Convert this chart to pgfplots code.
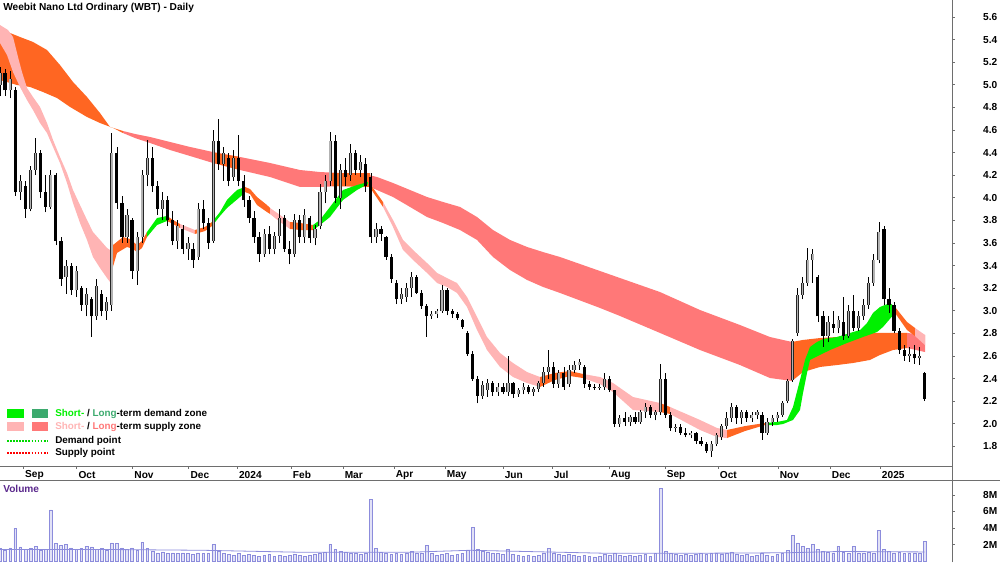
\documentclass[border=0pt]{standalone}
\usepackage{fontspec}
\setmainfont{Liberation Sans}
\usepackage{pgfplots}
\usepackage{pgfplotstable}
\pgfplotsset{compat=1.18}
\definecolor{stg}{RGB}{0,240,0}
\definecolor{ltg}{RGB}{60,170,110}
\definecolor{stp}{RGB}{255,180,180}
\definecolor{ltp}{RGB}{255,120,120}
\definecolor{orng}{RGB}{255,102,34}
\definecolor{volc}{RGB}{140,140,220}
\definecolor{volt}{RGB}{90,40,140}
\definecolor{axc}{RGB}{110,110,110}

\pgfplotstableread{
x o h l c v
0 5.00 5.16 4.90 5.10 1.5
2 5.10 5.14 4.90 4.95 1.3
4 4.95 5.12 4.88 5.05 1.6
6 4.95 4.98 4.02 4.05 4.0
8 4.05 4.20 3.98 4.15 1.7
10 4.10 4.15 3.82 3.90 1.4
12 3.90 4.28 3.88 4.25 1.5
14 4.25 4.53 4.20 4.40 1.8
16 4.40 4.42 4.00 4.05 1.3
18 4.05 4.20 3.87 3.92 1.4
20 3.92 4.25 3.90 4.20 6.2
22 4.20 4.22 3.58 3.62 2.1
24 3.62 3.65 3.22 3.28 1.9
26 3.30 3.45 3.15 3.40 2.0
28 3.40 3.42 3.14 3.18 1.6
30 3.18 3.40 3.12 3.35 1.4
32 3.20 3.22 3.00 3.05 1.5
34 3.05 3.20 2.95 3.15 1.8
36 3.10 3.12 2.77 2.95 1.7
38 2.95 3.28 2.92 3.22 1.4
40 3.15 3.18 2.95 3.00 1.5
42 3.00 3.12 2.92 3.08 1.3
44 3.05 4.57 3.00 4.40 2.2
46 4.40 4.45 3.90 3.95 2.1
48 3.95 4.02 3.60 3.65 1.6
50 3.65 3.90 3.60 3.85 1.4
52 3.80 3.82 3.28 3.35 1.6
54 3.35 3.70 3.23 3.65 1.3
56 3.65 4.25 3.60 4.20 2.3
58 4.20 4.51 4.10 4.35 1.5
60 4.35 4.45 4.05 4.10 1.2
62 4.10 4.15 3.85 3.90 1.0
64 3.90 4.05 3.80 3.98 1.1
66 3.98 4.02 3.75 3.80 0.9
68 3.80 3.88 3.58 3.62 1.0
70 3.62 3.80 3.55 3.75 0.9
72 3.72 3.76 3.50 3.55 1.0
74 3.55 3.65 3.45 3.60 0.9
76 3.55 3.60 3.38 3.45 0.8
78 3.48 3.95 3.45 3.90 1.0
80 3.90 3.98 3.72 3.78 0.9
82 3.78 3.82 3.55 3.60 1.0
84 3.62 4.60 3.60 4.50 2.0
86 4.50 4.70 4.25 4.30 1.2
88 4.30 4.45 4.15 4.40 0.9
90 4.35 4.40 4.10 4.15 0.8
92 4.18 4.42 4.15 4.35 0.7
94 4.35 4.56 4.10 4.15 0.9
96 4.15 4.20 3.92 3.98 0.7
98 3.98 4.02 3.78 3.82 0.8
100 3.82 3.88 3.60 3.65 0.7
102 3.65 3.70 3.43 3.50 0.6
104 3.50 3.72 3.48 3.68 0.7
106 3.68 3.75 3.50 3.55 0.8
108 3.55 3.70 3.50 3.66 0.6
110 3.66 3.90 3.60 3.82 0.7
112 3.82 3.85 3.52 3.55 0.6
114 3.55 3.62 3.41 3.50 0.7
116 3.50 3.86 3.48 3.80 0.8
118 3.80 3.85 3.60 3.65 0.7
120 3.65 3.90 3.60 3.85 0.6
122 3.82 3.84 3.60 3.64 0.7
124 3.64 3.76 3.58 3.72 0.8
126 3.75 4.12 3.72 4.05 1.0
128 4.05 4.20 3.95 4.15 1.1
130 4.15 4.58 4.10 4.50 2.0
132 4.50 4.56 3.95 4.00 1.4
134 4.00 4.30 3.90 4.25 1.2
136 4.25 4.35 4.10 4.18 1.1
138 4.20 4.48 4.15 4.40 1.0
140 4.40 4.42 4.20 4.25 0.9
142 4.25 4.38 4.18 4.32 0.8
144 4.30 4.35 4.05 4.10 1.0
146 4.18 4.22 3.60 3.65 7.5
148 3.65 3.78 3.60 3.72 1.5
150 3.72 3.75 3.62 3.68 1.1
152 3.65 3.66 3.45 3.48 0.9
154 3.48 3.50 3.25 3.28 0.8
156 3.25 3.27 3.06 3.10 1.0
158 3.10 3.20 3.06 3.15 0.8
160 3.12 3.25 3.08 3.20 0.9
162 3.20 3.34 3.12 3.30 1.2
164 3.30 3.32 3.15 3.16 1.0
166 3.16 3.18 3.02 3.04 0.9
168 3.04 3.06 2.77 2.95 1.9
170 2.95 3.00 2.93 2.97 0.9
172 2.97 3.02 2.94 3.00 0.7
174 3.00 3.23 2.98 3.18 0.8
176 3.18 3.20 2.96 3.00 0.9
178 3.00 3.02 2.94 2.97 0.7
180 2.97 2.99 2.92 2.94 0.8
182 2.92 2.93 2.84 2.86 0.9
184 2.80 2.82 2.60 2.62 1.3
186 2.62 2.64 2.38 2.40 4.1
188 2.40 2.42 2.18 2.25 1.4
190 2.25 2.38 2.22 2.34 1.2
192 2.30 2.40 2.24 2.36 1.1
194 2.36 2.38 2.25 2.28 1.0
196 2.28 2.36 2.25 2.33 0.9
198 2.33 2.36 2.26 2.28 0.8
200 2.28 2.60 2.25 2.36 1.4
202 2.36 2.37 2.23 2.26 0.8
204 2.26 2.32 2.24 2.30 0.7
206 2.30 2.36 2.26 2.33 0.6
208 2.33 2.34 2.26 2.28 0.7
210 2.28 2.33 2.25 2.31 0.6
212 2.31 2.38 2.28 2.36 0.7
214 2.36 2.50 2.33 2.46 0.9
216 2.46 2.65 2.40 2.50 1.5
218 2.50 2.55 2.32 2.35 1.0
220 2.35 2.48 2.32 2.45 0.8
222 2.45 2.50 2.30 2.33 0.7
224 2.35 2.52 2.33 2.48 0.8
226 2.48 2.56 2.45 2.52 0.7
228 2.52 2.57 2.48 2.55 0.6
230 2.50 2.52 2.32 2.35 0.7
232 2.35 2.38 2.30 2.33 0.6
234 2.33 2.35 2.30 2.32 0.5
236 2.32 2.35 2.30 2.33 0.6
238 2.33 2.45 2.30 2.40 0.8
240 2.40 2.42 2.28 2.30 0.7
242 2.30 2.30 1.97 2.00 1.0
244 2.00 2.08 1.97 2.05 0.7
246 2.05 2.10 1.98 2.02 0.6
248 2.02 2.08 1.98 2.06 0.7
250 2.06 2.10 2.00 2.02 0.6
252 2.02 2.12 2.00 2.10 0.7
254 2.10 2.18 2.05 2.15 0.8
256 2.15 2.17 2.05 2.08 0.6
258 2.08 2.12 2.03 2.10 0.9
260 2.10 2.53 2.08 2.40 8.8
262 2.40 2.45 2.05 2.08 1.2
264 2.08 2.10 1.94 1.96 0.9
266 1.96 2.00 1.93 1.97 0.8
268 1.97 2.00 1.90 1.92 0.7
270 1.92 1.96 1.88 1.90 0.8
272 1.90 1.94 1.87 1.92 0.7
274 1.92 1.93 1.82 1.85 0.8
276 1.85 1.88 1.80 1.82 0.9
278 1.82 1.84 1.74 1.76 0.8
280 1.76 1.85 1.71 1.82 1.0
282 1.82 1.92 1.80 1.90 0.9
284 1.88 2.00 1.86 1.98 0.8
286 1.98 2.10 1.95 2.05 1.0
288 2.05 2.18 2.02 2.15 1.1
290 2.15 2.17 2.00 2.05 0.8
292 2.05 2.12 2.00 2.10 0.7
294 2.10 2.12 2.02 2.05 0.8
296 2.05 2.10 2.02 2.08 0.6
298 2.08 2.12 2.04 2.10 0.7
300 2.08 2.10 1.86 1.92 0.9
302 1.92 2.05 1.90 2.02 0.7
304 2.02 2.08 1.98 2.05 0.6
306 2.05 2.10 2.02 2.08 0.8
308 2.08 2.20 2.06 2.18 1.0
310 2.20 2.40 2.18 2.38 1.3
312 2.39 2.75 2.37 2.73 3.1
314 2.80 3.20 2.78 3.14 2.2
316 3.14 3.30 3.10 3.25 1.8
318 3.25 3.56 3.22 3.45 1.5
320 3.45 3.55 3.25 3.50 2.0
322 3.30 3.32 2.90 2.95 1.4
324 2.95 3.00 2.68 2.78 1.2
326 2.78 2.95 2.72 2.90 1.1
328 2.88 3.00 2.80 2.85 1.0
330 2.85 2.95 2.80 2.92 1.8
332 2.90 3.12 2.74 2.78 1.1
334 2.78 3.05 2.76 3.00 1.0
336 3.00 3.14 2.82 2.85 1.8
338 2.85 3.00 2.82 2.95 1.0
340 2.95 3.10 2.92 3.05 0.9
342 3.05 3.30 3.02 3.25 1.1
344 3.25 3.50 3.22 3.45 1.0
346 3.45 3.79 3.42 3.70 3.7
348 3.72 3.75 3.05 3.10 1.4
350 3.10 3.20 2.98 3.05 1.2
352 3.05 3.08 2.80 2.82 1.0
354 2.82 2.85 2.62 2.65 1.1
356 2.65 2.70 2.56 2.60 0.9
358 2.60 2.68 2.55 2.62 1.0
360 2.62 2.70 2.53 2.58 0.9
362 2.58 2.68 2.52 2.60 1.0
364 2.45 2.46 2.20 2.22 2.4
}\price

\begin{document}
\begin{tikzpicture}
\useasboundingbox (0pt,0pt) rectangle (750pt,421.5pt);
\begin{axis}[at={(0pt,72pt)}, anchor=south west, scale only axis,
  width=714pt, height=349.5pt,
  xmin=0, xmax=374.8, ymin=1.6265, ymax=5.7504,
  axis x line=bottom, axis y line=right,
  x axis line style={-}, y axis line style={-},
  axis line style={axc, line width=0.6pt},
  tick style={axc, line width=0.5pt}, tick align=outside, major tick length=2.2pt,
  xtick={9.17,30.2,52.2,74.3,93.4,114.6,135.0,155.1,175.2,198.0,217.3,239.8,261.8,282.7,306.3,326.8,346.5},
  xticklabels={Sep,Oct,Nov,Dec,2024,Feb,Mar,Apr,May,Jun,Jul,Aug,Sep,Oct,Nov,Dec,2025},
  xticklabel style={anchor=west, inner sep=0pt, xshift=1.2pt, yshift=-4.6pt, font=\fontsize{7.6}{9}\selectfont\bfseries},
  ytick={1.8,2,2.2,2.4,2.6,2.8,3,3.2,3.4,3.6,3.8,4,4.2,4.4,4.6,4.8,5,5.2,5.4,5.6},
  yticklabel style={anchor=west, inner sep=0pt, xshift=21pt, font=\fontsize{7.6}{9}\selectfont\bfseries,
    /pgf/number format/.cd, fixed, fixed zerofill, precision=1, assume math mode=true},
  clip=true]
% long-term band
\addplot[fill=orng, draw=none] coordinates {(0,5.494) (7.87,5.423) (12.99,5.379) (18.50,5.308) (23.62,5.175) (28.74,5.025) (34.25,4.892) (39.37,4.750) (43.31,4.627) (48.43,4.591) (48.43,4.573) (44.49,4.618) (39.37,4.662) (34.25,4.715) (27.56,4.804) (22.44,4.883) (16.93,4.936) (11.81,4.981) (6.69,4.998) (0,5.042)};
\addplot[fill=ltp, draw=none] coordinates {(48.43,4.591) (53.15,4.565) (59.06,4.538) (66.93,4.494) (74.80,4.450) (83.86,4.405) (94.49,4.361) (106.30,4.308) (118.11,4.246) (125.98,4.228) (133.86,4.219) (141.73,4.219) (148.43,4.184) (154.72,4.131) (161.42,4.069) (168.11,4.007) (174.41,3.963) (181.10,3.919) (187.80,3.830) (194.09,3.715) (200.79,3.627) (207.48,3.565) (213.78,3.520) (220.47,3.476) (236.22,3.352) (244.09,3.290) (259.84,3.166) (275.59,3.007) (291.34,2.874) (303.15,2.768) (311.81,2.724) (311.81,2.379) (303.15,2.405) (291.34,2.520) (275.59,2.653) (259.84,2.804) (244.09,2.954) (236.22,3.025) (220.47,3.158) (213.78,3.211) (207.48,3.273) (200.79,3.361) (194.09,3.476) (187.80,3.627) (181.10,3.715) (174.41,3.777) (168.11,3.830) (161.42,3.919) (154.72,4.007) (145.67,4.096) (133.86,4.104) (125.98,4.096) (118.11,4.096) (106.30,4.184) (94.49,4.246) (83.86,4.308) (74.80,4.370) (66.93,4.423) (59.06,4.485) (53.15,4.529) (48.43,4.573)};
\addplot[fill=orng, draw=none] coordinates {(84.25,4.40) (93.70,4.364) (93.70,4.25) (84.25,4.308)};
\addplot[fill=orng, draw=none] coordinates {(130.71,4.219) (145.67,4.219) (145.67,4.096) (130.71,4.104)};
\addplot[fill=orng, draw=none] coordinates {(311.81,2.724) (316.14,2.742) (322.83,2.759) (329.53,2.768) (335.83,2.786) (342.52,2.804) (349.21,2.804) (357.09,2.804) (357.09,2.671) (351.57,2.653) (346.46,2.609) (342.52,2.565) (335.83,2.538) (329.53,2.520) (322.83,2.503) (316.14,2.458) (311.81,2.379)};
\addplot[fill=ltp, draw=none] coordinates {(357.09,2.804) (364.17,2.786) (364.17,2.635) (357.09,2.671)};
% short-term band
\addplot[fill=stp, draw=none] coordinates {(0,5.529) (3.15,5.485) (5.12,5.423) (7.09,5.246) (8.66,5.113) (10.63,4.972) (12.99,4.892) (15.75,4.804) (18.50,4.662) (20.87,4.512) (23.62,4.361) (26.38,4.219) (28.74,4.069) (31.50,3.936) (34.25,3.804) (36.61,3.697) (39.37,3.627) (42.13,3.556) (43.31,3.538) (43.31,3.255) (42.13,3.290) (39.37,3.379) (36.61,3.476) (34.25,3.627) (31.50,3.777) (28.74,3.954) (26.38,4.131) (23.62,4.308) (20.87,4.450) (18.50,4.573) (15.75,4.662) (12.99,4.777) (10.63,4.865) (7.87,4.981) (5.12,5.113) (2.76,5.264) (0,5.370)};
\addplot[fill=orng, draw=none] coordinates {(43.31,3.538) (44.49,3.582) (48.43,3.653) (51.18,3.635) (53.94,3.582) (55.91,3.618) (57.87,3.697) (57.87,3.653) (55.91,3.556) (53.94,3.520) (52.36,3.547) (50.0,3.565) (46.06,3.512) (44.09,3.361) (43.31,3.255)};
\addplot[fill=stg, draw=none] coordinates {(57.87,3.697) (61.81,3.821) (65.75,3.839) (65.75,3.795) (61.81,3.759) (57.87,3.653)};
\addplot[fill=orng, draw=none] coordinates {(65.75,3.839) (68.11,3.804) (70.87,3.768) (70.87,3.733) (68.11,3.768) (65.75,3.795)};
\addplot[fill=stp, draw=none] coordinates {(70.87,3.768) (76.77,3.715) (76.77,3.680) (70.87,3.733)};
\addplot[fill=orng, draw=none] coordinates {(76.77,3.715) (80.71,3.742) (83.46,3.786) (83.46,3.750) (80.71,3.706) (76.77,3.680)};
\addplot[fill=stg, draw=none] coordinates {(83.46,3.786) (86.61,3.874) (89.37,3.981) (93.31,4.069) (96.46,4.096) (96.46,4.051) (94.49,4.007) (89.37,3.910) (86.61,3.839) (83.46,3.750)};
\addplot[fill=orng, draw=none] coordinates {(96.46,4.096) (98.43,4.078) (101.18,4.007) (105.12,3.936) (106.30,3.910) (106.30,3.857) (105.12,3.874) (101.18,3.936) (98.43,4.034) (96.46,4.051)};
\addplot[fill=stp, draw=none] coordinates {(106.30,3.910) (110.24,3.848) (114.17,3.786) (114.17,3.724) (110.24,3.786) (106.30,3.857)};
\addplot[fill=orng, draw=none] coordinates {(114.17,3.786) (118.11,3.777) (123.23,3.759) (123.23,3.715) (118.11,3.715) (114.17,3.724)};
\addplot[fill=stg, draw=none] coordinates {(123.23,3.759) (125.98,3.804) (129.92,3.919) (135.04,4.069) (140.55,4.113) (144.88,4.140) (144.88,4.122) (140.55,4.069) (135.04,3.981) (129.92,3.830) (125.98,3.759) (123.23,3.715)};
\addplot[fill=orng, draw=none] coordinates {(144.88,4.140) (146.85,4.087) (150.79,3.963) (150.79,3.919) (146.85,4.051) (144.88,4.122)};
\addplot[fill=stp, draw=none] coordinates {(150.79,3.963) (154.72,3.804) (158.66,3.627) (162.60,3.538) (168.11,3.423) (172.05,3.335) (175.98,3.290) (179.92,3.246) (183.86,3.122) (187.80,2.945) (191.73,2.768) (196.85,2.627) (201.97,2.538) (207.48,2.458) (212.60,2.414) (212.60,2.326) (207.48,2.361) (201.97,2.414) (196.85,2.503) (191.73,2.653) (187.80,2.830) (183.86,3.034) (179.92,3.158) (175.98,3.211) (172.05,3.246) (168.11,3.335) (162.60,3.450) (158.66,3.538) (154.72,3.742) (150.79,3.919)};
\addplot[fill=orng, draw=none] coordinates {(212.60,2.414) (218.50,2.450) (224.41,2.467) (229.53,2.441) (229.53,2.405) (224.41,2.423) (218.50,2.388) (212.60,2.326)};
\addplot[fill=stp, draw=none] coordinates {(229.53,2.441) (236.22,2.414) (241.34,2.361) (249.21,2.237) (259.84,2.184) (259.84,2.104) (249.21,2.122) (241.34,2.281) (236.22,2.352) (229.53,2.405)};
\addplot[fill=orng, draw=none] coordinates {(259.84,2.184) (263.78,2.149) (263.78,2.087) (259.84,2.104)};
\addplot[fill=stp, draw=none] coordinates {(263.78,2.149) (275.59,2.034) (282.28,1.963) (286.22,1.945) (286.22,1.874) (282.28,1.883) (275.59,1.945) (263.78,2.087)};
\addplot[fill=orng, draw=none] coordinates {(286.22,1.945) (293.31,1.980) (301.18,2.007) (301.18,1.989) (293.31,1.936) (286.22,1.874)};
\addplot[fill=stg, draw=none] coordinates {(301.18,2.007) (305.91,2.016) (309.84,2.034) (312.20,2.149) (314.96,2.388) (316.93,2.565) (318.90,2.680) (321.65,2.724) (324.02,2.750) (329.53,2.768) (334.65,2.804) (338.58,2.830) (341.34,2.892) (343.70,2.981) (346.46,3.034) (350.39,3.069) (352.36,3.034) (352.36,2.981) (347.64,2.857) (345.28,2.812) (339.76,2.768) (333.46,2.715) (326.77,2.653) (322.83,2.609) (318.90,2.565) (317.72,2.450) (316.14,2.273) (314.96,2.122) (312.20,2.034) (308.27,1.998) (305.91,1.989) (301.18,1.989)};
\addplot[fill=orng, draw=none] coordinates {(352.36,3.034) (357.09,2.901) (360.24,2.848) (360.24,2.777) (357.09,2.830) (352.36,2.981)};
\addplot[fill=stp, draw=none] coordinates {(360.24,2.848) (364.17,2.786) (364.17,2.697) (360.24,2.777)};
% candles: wicks
\addplot[draw=none, mark=none, error bars/.cd, y dir=plus, y explicit, error mark=none,
  error bar style={draw=black, line width=0.5pt}]
  table[x=x, y=l, y error plus expr=\thisrow{h}-\thisrow{l}] {\price};
% up bodies
\addplot[draw=none, mark=none, restrict expr to domain={\thisrow{c}-\thisrow{o}}{0:10},
  error bars/.cd, y dir=plus, y explicit, error mark=none,
  error bar style={draw=black!85, line width=2.4pt}]
  table[x=x, y=o, y error plus expr=\thisrow{c}-\thisrow{o}] {\price};
\addplot[draw=none, mark=none, restrict expr to domain={\thisrow{c}-\thisrow{o}}{0:10},
  error bars/.cd, y dir=plus, y explicit, error mark=none,
  error bar style={draw=black!30, line width=1.2pt}]
  table[x=x, y=o, y error plus expr=\thisrow{c}-\thisrow{o}] {\price};
% down bodies
\addplot[draw=none, mark=none, restrict expr to domain={\thisrow{o}-\thisrow{c}}{0.0001:10},
  error bars/.cd, y dir=plus, y explicit, error mark=none,
  error bar style={draw=black, line width=2.4pt}]
  table[x=x, y=c, y error plus expr=\thisrow{o}-\thisrow{c}] {\price};
\end{axis}

\begin{axis}[at={(0pt,0pt)}, anchor=south west, scale only axis,
  width=714pt, height=61.5pt,
  xmin=0, xmax=374.8, ymin=-0.121, ymax=9.818,
  axis x line=none, axis y line=right, y axis line style={-},
  axis line style={axc, line width=0.6pt},
  tick style={axc, line width=0.5pt}, tick align=outside, major tick length=2.2pt,
  ytick={2,4,6,8}, yticklabels={2M,4M,6M,8M},
  yticklabel style={anchor=west, inner sep=0pt, xshift=21pt, font=\fontsize{7.6}{9}\selectfont\bfseries},
  clip=true]
\addplot[ybar, bar width=1.1, fill=volc!25, draw=volc, line width=0.35pt] table[x=x, y=v] {\price};
\addplot[volc, line width=0.6pt, sharp plot, mark=none] coordinates {(0,1.4) (40,1.4) (80,1.3) (120,1.05) (160,1.05) (185,1.3) (200,1.2) (240,0.93) (280,0.95) (310,1.0) (330,1.15) (364,1.1)};
\end{axis}

\draw[axc, line width=0.6pt] (0pt,61.5pt) -- (750pt,61.5pt);
\draw[axc, line width=0.6pt] (714pt,0pt) -- (714pt,421.5pt);

\node[anchor=west, inner sep=0pt, font=\fontsize{7.6}{9}\selectfont\bfseries] at (2.25pt,415.5pt) {Weebit Nano Ltd Ordinary (WBT) - Daily};
\node[anchor=west, inner sep=0pt, font=\fontsize{7.6}{9}\selectfont\bfseries, text=volt] at (2.25pt,54.75pt) {Volume};

% legend
\fill[stg] (5.25pt,108pt) rectangle (18pt,114.75pt);
\fill[ltg] (24pt,108pt) rectangle (36pt,114.75pt);
\fill[stp] (5.25pt,98.25pt) rectangle (18pt,105pt);
\fill[ltp] (24pt,98.25pt) rectangle (36pt,105pt);
\draw[green!85!black, line width=2pt, dash pattern=on 1.3pt off 1.0pt] (5.25pt,90.75pt) -- (36pt,90.75pt);
\draw[red, line width=2pt, dash pattern=on 1.3pt off 1.0pt] (5.25pt,81.75pt) -- (36pt,81.75pt);
\begin{scope}[every node/.style={anchor=west, inner sep=0pt, font=\fontsize{7.4}{9}\selectfont\bfseries}]
\node at (41.25pt,111pt) {\textcolor{stg}{Short-} / \textcolor{ltg}{Long}-term demand zone};
\node at (41.25pt,101.25pt) {\textcolor{stp}{Short-} / \textcolor{ltp}{Long}-term supply zone};
\node at (41.25pt,90.75pt) {Demand point};
\node at (41.25pt,81.75pt) {Supply point};
\end{scope}
\end{tikzpicture}
\end{document}
